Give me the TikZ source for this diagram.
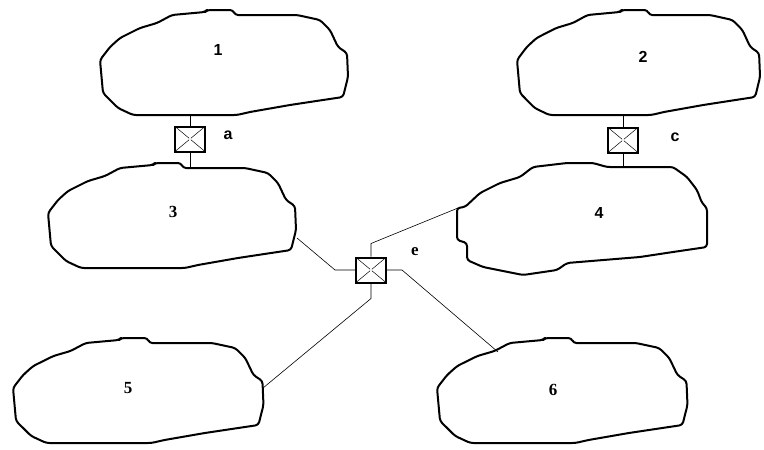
\documentclass[tikz,border=0pt]{standalone}
\usepackage{fontspec}
\setmainfont{Liberation Sans}
\newfontfamily\serifb{Liberation Serif}
\tikzset{
  cloudline/.style={line width=2pt, line join=round, rounded corners=3pt},
  cloud/.pic={
    \draw[cloudline] (72,5) -- (105,2) -- (107,0) -- (133,0) -- (135,5) -- (197,5)
      -- (220,10) -- (230,20) -- (238,37) -- (247,43) -- (248,67) -- (243,87)
      -- (223,90) -- (190,95) -- (150,102) -- (137,105) -- (33,105) -- (18,98)
      -- (3,83) -- (0,50) -- (10,37) -- (20,28) -- (40,18) -- (57,13) -- cycle;
  },
  switchbox/.style={draw, line width=2pt, minimum width=30pt, minimum height=25pt,
    inner sep=0pt, fill=white,
    path picture={
      \draw[line width=0.5pt] (path picture bounding box.north west) -- (path picture bounding box.south east);
      \draw[line width=0.5pt] (path picture bounding box.north east) -- (path picture bounding box.south west);
      \fill (path picture bounding box.center) circle (1.3pt);
    }},
  lbl/.style={font=\fontsize{16}{16}\selectfont\bfseries, inner sep=0pt},
  slbl/.style={font=\fontsize{17}{17}\selectfont\serifb\bfseries, inner sep=0pt},
  wire/.style={line width=0.6pt}
}
\begin{document}
\begin{tikzpicture}[x=1pt, y=-1pt]
\useasboundingbox (0,0) rectangle (764,450);
% clouds
\pic at (100,10) {cloud};
\pic at (517,10) [xscale=0.98] {cloud};
\pic at (48,163) {cloud};
\draw[cloudline] (533,167) -- (567,163) -- (593,163) -- (607,167) -- (673,167)
  -- (687,177) -- (697,190) -- (702,203) -- (707,208) -- (707,247) -- (673,252)
  -- (640,257) -- (567,263) -- (557,270) -- (523,275) -- (483,267) -- (467,260)
  -- (467,243) -- (457,240) -- (457,208) -- (465,207) -- (480,193) -- (500,183)
  -- (520,177) -- cycle;
\pic at (13,338) [xscale=1.01] {cloud};
\pic at (437,338) [xscale=1.01] {cloud};
% cloud labels
\node[lbl] (l1) at (218,50) {1};
\node[lbl] (l2) at (643,57) {2};
\node[slbl] (l3) at (173,212) {3};
\node[lbl] (l4) at (599,213) {4};
\node[slbl] (l5) at (128,388) {5};
\node[slbl] (l6) at (553,390) {6};
% attachment points
\coordinate (c1b) at (190,115);
\coordinate (c3t) at (190,168);
\coordinate (c2b) at (623,115);
\coordinate (c4t) at (623,167);
\coordinate (c3r) at (297,238);
\coordinate (c4l) at (458,208);
\coordinate (c5r) at (263,388);
\coordinate (c6t) at (498,352);
% switch boxes
\node[switchbox] (a) at (190,139) {};
\node[switchbox] (c) at (623,140) {};
\node[switchbox] (e) at (371,270) {};
\node[lbl] (la) at (228,135) {a};
\node[lbl] (lc) at (675,137) {c};
\node[slbl] (le) at (415,252) {e};
% connectors
\draw[wire] (c1b) -- (a.north);
\draw[wire] (a.south) -- (c3t);
\draw[wire] (c2b) -- (c.north);
\draw[wire] (c.south) -- (c4t);
\draw[wire] (e.west) -- ++(-20,0) -- (c3r);
\draw[wire] (e.north) -- ++(0,-13) -- (c4l);
\draw[wire] (e.east) -- ++(15,0) -- (c6t);
\draw[wire] (e.south) -- ++(0,15) -- (c5r);
\end{tikzpicture}
\end{document}
